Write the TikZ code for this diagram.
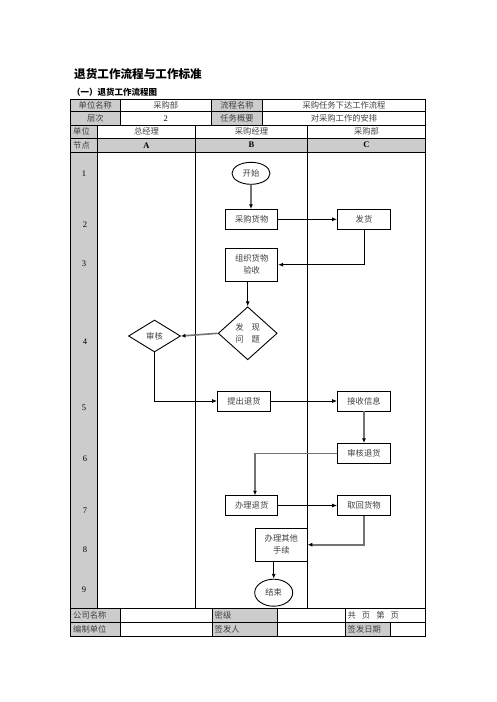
\documentclass[tikz,border=0pt]{standalone}
\usepackage{fontspec}
\setmainfont{Liberation Serif}
\newfontfamily\cjk{Noto Sans CJK SC}
\usetikzlibrary{shapes.geometric,arrows.meta,calc}
\definecolor{cellgray}{gray}{0.80}
\definecolor{arrgray}{gray}{0.45}
\begin{document}
\begin{tikzpicture}[x=1pt,y=-1pt,
  tline/.style={line width=0.9pt},
  txt/.style={font=\cjk\fontsize{8.3}{10}\selectfont, inner sep=0pt, text=black!75},
  ltxt/.style={txt, anchor=west},
  boxn/.style={draw, line width=0.9pt, font=\cjk\fontsize{8.3}{12}\selectfont, text=black!75, inner sep=0pt, align=center, fill=white},
  rbox/.style={boxn, rectangle, minimum width=52pt, minimum height=20pt},
  tbox/.style={boxn, rectangle, minimum width=52pt, minimum height=33pt},
  ebox/.style={boxn, ellipse, minimum width=38pt},
  dbox/.style={boxn, diamond},
  arr/.style={-{Latex[length=5pt,width=4pt]}, line width=0.8pt},
  garr/.style={-{Latex[length=4.5pt,width=4pt,color=black]}, line width=1.6pt, draw=arrgray},
  num/.style={font=\fontsize{8.5}{10}\selectfont, inner sep=0pt}
]
\useasboundingbox (0,0) rectangle (496,702);
% titles
\node[anchor=west, inner sep=0pt, font=\cjk\bfseries\fontsize{11.6}{13}\selectfont] (title) at (74,74) {退货工作流程与工作标准};
\node[anchor=west, inner sep=0pt, font=\cjk\bfseries\fontsize{8.5}{10}\selectfont] (subtitle) at (72,92) {（一）退货工作流程图};
% gray fills
\fill[cellgray] (70.7,99.3) rectangle (120,125);
\fill[cellgray] (211.7,99.3) rectangle (262.3,125);
\fill[cellgray] (70.7,125) rectangle (97.3,138.3);
\fill[cellgray] (70.7,138.3) rectangle (425.7,152);
\fill[cellgray] (70.7,152) rectangle (97.3,608.3);
\fill[cellgray] (70.7,608.3) rectangle (120,636);
\fill[cellgray] (212.3,608.3) rectangle (277.3,636);
\fill[cellgray] (345,622.7) rectangle (390,636);
% table lines
\draw[tline] (70.7,99.3) rectangle (425.7,636);
\foreach \yy in {111.7,125,138.3,152,608.3,622.7} \draw[tline] (70.7,\yy) -- (425.7,\yy);
\foreach \xx in {120,211.7,262.3} \draw[tline] (\xx,99.3) -- (\xx,125);
\foreach \xx in {97.3,195.7,307.3} \draw[tline] (\xx,125) -- (\xx,608.3);
\foreach \xx in {120,212.3,277.3,345} \draw[tline] (\xx,608.3) -- (\xx,636);
\draw[tline] (390,622.7) -- (390,636);
% header texts
\node[txt] (h1) at (95.3,105.5) {单位名称};
\node[txt] (h2) at (165.8,105.5) {采购部};
\node[txt] (h3) at (237,105.5) {流程名称};
\node[txt] (h4) at (344,105.5) {采购任务下达工作流程};
\node[txt] (h5) at (95.3,118.3) {层次};
\node[font=\fontsize{8.5}{10}\selectfont, inner sep=0pt] (h6) at (165.8,118.3) {2};
\node[txt] (h7) at (237,118.3) {任务概要};
\node[txt] (h8) at (344,118.3) {对采购工作的安排};
\node[ltxt] (u0) at (73,131.6) {单位};
\node[txt] (u1) at (146.5,131.6) {总经理};
\node[txt] (u2) at (251.5,131.6) {采购经理};
\node[txt] (u3) at (366.5,131.6) {采购部};
\node[ltxt] (n0) at (73,145.2) {节点};
\node[font=\bfseries\fontsize{8.5}{10}\selectfont, inner sep=0pt] (na) at (146.5,145.2) {A};
\node[font=\bfseries\fontsize{8.5}{10}\selectfont, inner sep=0pt] (nb) at (251.5,145.2) {B};
\node[font=\bfseries\fontsize{8.5}{10}\selectfont, inner sep=0pt] (nc) at (366.5,145.2) {C};
% node numbers
\node[num] (r1) at (84,173.3) {1};
\node[num] (r2) at (85,225) {2};
\node[num] (r3) at (84,263.3) {3};
\node[num] (r4) at (85,341.7) {4};
\node[num] (r5) at (84,407.3) {5};
\node[num] (r6) at (85,459) {6};
\node[num] (r7) at (85,511) {7};
\node[num] (r8) at (85,550) {8};
\node[num] (r9) at (84,589.3) {9};
% footer texts
\node[ltxt] (f1) at (73,615.5) {公司名称};
\node[ltxt] (f2) at (214.5,615.5) {密级};
\node[ltxt] (f3) at (347.5,615.5) {共\hspace{6pt}页\hspace{6pt}第\hspace{6pt}页};
\node[ltxt] (f4) at (73,629.3) {编制单位};
\node[ltxt] (f5) at (214.5,629.3) {签发人};
\node[ltxt] (f6) at (347.5,629.3) {签发日期};
% flow nodes
\node[ebox, minimum height=22pt] (start) at (251,173.3) {开始};
\node[rbox] (buy) at (251.7,219.3) {采购货物};
\node[rbox, minimum width=53pt] (ship) at (364,219.3) {发货};
\node[tbox] (org) at (251.7,264.7) {组织货物\\验收};
\node[dbox, minimum width=59pt, minimum height=53pt] (find) at (247.7,333.3) {发\hspace{8pt}现\\问\hspace{8pt}题};
\node[dbox, minimum width=52pt, minimum height=32pt] (audit) at (154.5,336) {审核};
\node[rbox, minimum width=53pt] (submit) at (244,401) {提出退货};
\node[rbox, minimum width=53pt] (recv) at (364,401) {接收信息};
\node[rbox, minimum width=53pt] (check) at (364,453.3) {审核退货};
\node[rbox, minimum width=52pt, minimum height=19.6pt] (handle) at (251.7,505.5) {办理退货};
\node[rbox, minimum width=53pt, minimum height=19.6pt] (fetch) at (364,505.5) {取回货物};
\node[tbox] (other) at (281.3,544.7) {办理其他\\手续};
\node[ebox, minimum height=27pt] (end) at (273.7,592.7) {结束};
% connectors
\draw[garr] (start) -- (start |- buy.north);
\draw[arr] (buy) -- (ship);
\draw[arr] (ship.south) |- (org.east);
\draw[arr] (find.north |- org.south) -- (find.north);
\draw[garr] (find.west) -- (audit.east);
\draw[arr] (audit.south) |- (submit.west);
\draw[arr] (submit) -- (recv);
\draw[garr] (recv) -- (check);
\draw[garr] (check.west) -| ($(handle.north)+(3.3,0)$);
\draw[arr] (handle) -- (fetch);
\draw[garr] (fetch.south) |- (other.east);
\draw[arr] (other.south -| end.north) -- (end.north);
\end{tikzpicture}
\end{document}
